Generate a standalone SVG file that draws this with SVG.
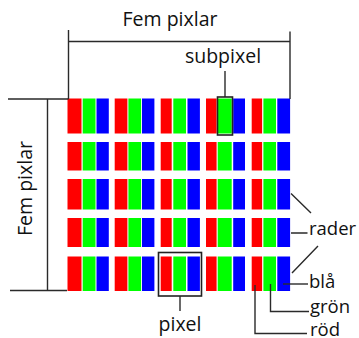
<svg xmlns="http://www.w3.org/2000/svg" xmlns:xlink="http://www.w3.org/1999/xlink" width="359" height="338" viewBox="0 0 359 338">
  <style>
    .r { fill: #ff0000; }
    .g { fill: #00ff00; }
    .b { fill: #0000ff; }
    .ln { fill: none; stroke: #2a2a2a; stroke-width: 1.4; }
    .box { fill: none; stroke: #222; stroke-width: 1.6; }
    text { font-family: "Open Sans", "DejaVu Sans", sans-serif; font-size: 19.5px; fill: #111; }
    .sm { font-size: 18.5px; }
  </style>
  <defs>
    <g id="rowcells">
      <rect class="r" x="67.5" y="0" width="14" height="1"/>
      <rect class="g" x="82.7" y="0" width="12.8" height="1"/>
      <rect class="b" x="96.5" y="0" width="12.3" height="1"/>
      <rect class="r" x="114.7" y="0" width="12.7" height="1"/>
      <rect class="g" x="128.4" y="0" width="12.7" height="1"/>
      <rect class="b" x="142" y="0" width="12.4" height="1"/>
      <rect class="r" x="160.7" y="0" width="11" height="1"/>
      <rect class="g" x="173.3" y="0" width="12.7" height="1"/>
      <rect class="b" x="187.5" y="0" width="12.4" height="1"/>
      <rect class="r" x="206" y="0" width="10.6" height="1"/>
      <rect class="g" x="217.7" y="0" width="14" height="1"/>
      <rect class="b" x="233.2" y="0" width="11.8" height="1"/>
      <rect class="r" x="251.7" y="0" width="10.4" height="1"/>
      <rect class="g" x="263.4" y="0" width="12.6" height="1"/>
      <rect class="b" x="277.3" y="0" width="12.8" height="1"/>
    </g>
  </defs>
  <rect x="0" y="0" width="359" height="338" fill="#ffffff"/>
  <g id="grid">
    <use xlink:href="#rowcells" transform="translate(0,98.5) scale(1,35)"/>
    <use xlink:href="#rowcells" transform="translate(0,142) scale(1,28.5)"/>
    <use xlink:href="#rowcells" transform="translate(0,179) scale(1,30.5)"/>
    <use xlink:href="#rowcells" transform="translate(0,218) scale(1,29)"/>
    <use xlink:href="#rowcells" transform="translate(0,256.5) scale(1,34.5)"/>
  </g>
  <g id="connectors">
    <path class="ln" d="M68.5,30 V99 M68.5,41.5 H290 M290,31.5 V99"/>
    <path class="ln" d="M8,99 H68.5 M47.5,99 V290.5 M10,290.5 H67"/>
    <path class="ln" d="M225,71 V97"/>
    <rect class="box" x="217.5" y="97" width="15" height="38"/>
    <rect class="box" x="158.5" y="252.5" width="43" height="43.5"/>
    <path class="ln" d="M180,296 V311"/>
    <path class="ln" d="M291,193.5 L311,213 M291,233 H307.5 M318,246 L292,273"/>
    <path class="ln" d="M283,284 H308"/>
    <path class="ln" d="M270.5,284 V311.5 H309"/>
    <path class="ln" d="M255,285 V333.5 H307"/>
  </g>
  <g id="labels">
    <text x="170" y="26" text-anchor="middle">Fem pixlar</text>
    <text transform="translate(32,188.5) rotate(-90)" text-anchor="middle">Fem pixlar</text>
    <text x="223" y="63" text-anchor="middle">subpixel</text>
    <text x="180" y="331" text-anchor="middle">pixel</text>
    <text class="sm" x="309" y="235">rader</text>
    <text class="sm" x="309" y="288">blå</text>
    <text class="sm" x="310" y="313">grön</text>
    <text class="sm" x="310" y="335.5">röd</text>
  </g>
</svg>
